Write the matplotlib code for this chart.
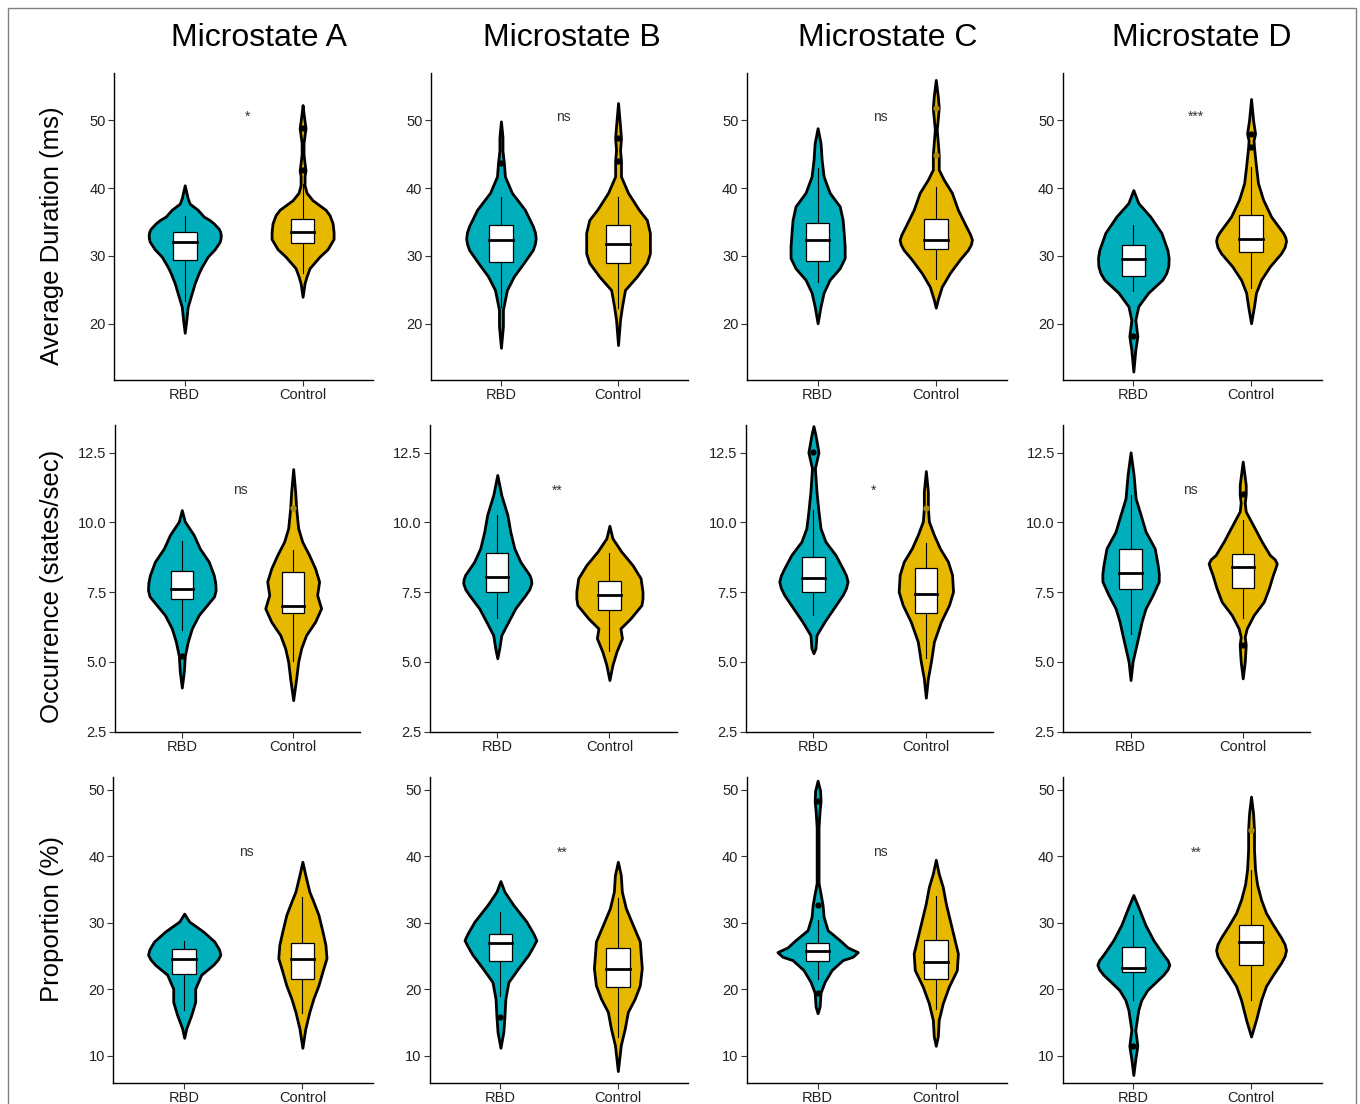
import matplotlib
matplotlib.use('Agg')
import matplotlib.pyplot as plt
import numpy as np
from matplotlib.patches import Rectangle

plt.rcParams['font.family'] = ['Liberation Sans', 'DejaVu Sans']

microstates = ['Microstate A', 'Microstate B', 'Microstate C', 'Microstate D']
groups = ['RBD', 'Control']
measures = ['Average Duration (ms)', 'Occurrence (states/sec)', 'Proportion (%)']
signif = [['*', 'ns', 'ns', '***'],
          ['ns', '**', '*', 'ns'],
          ['ns', '**', 'ns', '**']]

# violin outlines: (value, half width in category units)
# box stats: [lower whisker, q1, median, q3, upper whisker]

# ---- average duration ----
dur_a_rbd = [(18.7, 0), (20.5, .013), (22.5, .025), (24.5, .059), (26.0, .085), (27.5, .119),
             (28.4, .144), (29.9, .195), (31.0, .255), (32.1, .297), (32.6, .304), (33.1, .306),
             (33.6, .300), (34.0, .289), (34.8, .246), (35.3, .210), (35.8, .161), (36.8, .110),
             (37.7, .042), (38.5, .025), (40.4, 0)]
dur_a_rbd_box = [23.4, 29.4, 32.0, 33.6, 35.9]
dur_a_rbd_out = []
dur_a_ctl = [(24.0, 0), (26.0, .017), (27.0, .034), (28.2, .059), (29.9, .144), (31.0, .212),
             (32.5, .263), (33.5, .263), (34.8, .255), (36.0, .229), (36.8, .195), (38.2, .085),
             (39.3, .034), (40.4, .017), (41.8, .017), (42.6, .025), (43.6, .017), (45.0, .008),
             (46.6, .008), (47.8, .017), (48.8, .025), (49.8, .017), (51.0, .008), (52.2, 0)]
dur_a_ctl_box = [27.5, 31.9, 33.6, 35.4, 40.6]
dur_a_ctl_out = [42.6, 48.8]

dur_b_rbd = [(16.5, 0), (19.7, .017), (22.1, .017), (25.0, .051), (27.0, .110), (29.0, .195),
             (30.9, .272), (31.8, .290), (32.6, .297), (33.5, .290), (34.4, .272), (36.8, .204),
             (39.3, .093), (41.7, .034), (43.7, .025), (45.5, .013), (47.5, .013), (49.8, 0)]
dur_b_rbd_box = [22.5, 29.1, 32.3, 34.6, 38.7]
dur_b_rbd_out = [43.7]
dur_b_ctl = [(16.9, 0), (20.6, .017), (22.6, .034), (25.0, .059), (27.0, .161), (29.0, .246),
             (30.4, .272), (32.0, .272), (33.4, .272), (35.3, .246), (36.8, .178), (39.3, .085),
             (41.7, .025), (44.0, .025), (45.6, .017), (47.3, .025), (49.1, .017), (52.5, 0)]
dur_b_ctl_box = [22.3, 29.0, 31.8, 34.6, 38.7]
dur_b_ctl_out = [44.0, 47.3]

dur_c_rbd = [(20.1, 0), (22.6, .025), (24.6, .051), (26.5, .102), (28.2, .187), (29.7, .229),
             (31.4, .229), (33.4, .221), (35.3, .212), (37.3, .187), (39.3, .102), (41.7, .051),
             (44.2, .034), (46.6, .025), (48.8, 0)]
dur_c_rbd_box = [26.2, 29.2, 32.3, 34.8, 42.9]
dur_c_rbd_out = []
dur_c_ctl = [(22.4, 0), (23.6, .017), (25.5, .051), (27.5, .119), (29.5, .204), (30.9, .272),
             (31.7, .297), (32.4, .306), (33.2, .290), (34.4, .255), (36.8, .187), (39.3, .136),
             (41.2, .068), (42.7, .025), (44.9, .025), (46.7, .017), (48.6, .008), (50.2, .017),
             (51.8, .025), (53.5, .017), (55.9, 0)]
dur_c_ctl_box = [26.6, 31.1, 32.4, 35.4, 40.1]
dur_c_ctl_out = []
dur_c_ctl_faint = [44.9, 51.8]

dur_d_rbd = [(13.0, 0), (16.2, .017), (18.2, .034), (20.6, .017), (22.6, .042), (24.6, .127),
             (26.5, .246), (27.5, .280), (28.5, .297), (29.7, .300), (30.9, .289), (33.4, .238),
             (35.8, .144), (37.8, .042), (39.7, 0)]
dur_d_rbd_box = [24.8, 27.0, 29.5, 31.6, 34.5]
dur_d_rbd_out = [18.2]
dur_d_ctl = [(20.1, 0), (22.6, .025), (24.6, .042), (26.5, .085), (28.5, .161), (30.4, .255),
             (31.3, .285), (32.2, .297), (32.8, .290), (33.4, .272), (35.8, .170), (38.3, .102),
             (40.7, .059), (43.2, .042), (46.0, .025), (47.0, .021), (48.0, .034), (50.0, .017),
             (53.1, 0)]
dur_d_ctl_box = [25.3, 30.6, 32.5, 36.0, 43.1]
dur_d_ctl_out = [46.0, 48.0]

# ---- occurrence ----
occ_a_rbd = [(4.08, 0), (4.65, .018), (5.22, .027), (5.73, .054), (6.20, .090), (6.68, .152),
             (7.16, .251), (7.35, .290), (7.58, .304), (7.85, .300), (8.12, .286), (8.59, .242),
             (9.07, .161), (9.55, .107), (10.03, .027), (10.44, 0)]
occ_a_rbd_box = [6.14, 7.26, 7.63, 8.26, 9.33]
occ_a_rbd_out = [5.22]
occ_a_ctl = [(3.63, 0), (4.41, .027), (5.01, .045), (5.49, .072), (5.96, .116), (6.44, .197),
             (6.92, .251), (7.40, .215), (7.88, .233), (8.35, .197), (8.83, .143), (9.31, .081),
             (9.79, .045), (10.50, .027), (11.10, .018), (11.91, 0)]
occ_a_ctl_box = [5.05, 6.74, 7.02, 8.21, 9.01]
occ_a_ctl_out = []
occ_a_ctl_faint = [10.5]

occ_b_rbd = [(5.13, 0), (5.49, .018), (5.96, .036), (6.44, .098), (6.92, .161), (7.40, .251),
             (7.60, .285), (7.82, .304), (7.97, .300), (8.12, .286), (8.59, .206), (9.07, .152),
             (9.67, .116), (10.27, .090), (10.98, .036), (11.70, 0)]
occ_b_rbd_box = [6.56, 7.52, 8.03, 8.89, 10.27]
occ_b_rbd_out = []
occ_b_ctl = [(4.35, 0), (4.89, .027), (5.37, .063), (5.85, .112), (6.20, .098), (6.56, .188),
             (7.04, .286), (7.28, .295), (7.52, .295), (8.00, .278), (8.47, .206), (8.95, .107),
             (9.43, .027), (9.88, 0)]
occ_b_ctl_box = [5.39, 6.86, 7.40, 7.91, 8.89]
occ_b_ctl_out = []

occ_c_rbd = [(5.31, 0), (5.49, .018), (5.96, .027), (6.44, .098), (6.92, .179), (7.40, .260),
             (7.65, .290), (7.88, .304), (8.10, .290), (8.35, .260), (8.83, .197), (9.31, .107),
             (9.79, .063), (10.39, .045), (11.10, .027), (11.94, .013), (12.51, .045),
             (13.13, .018), (13.45, 0)]
occ_c_rbd_box = [6.68, 7.52, 8.02, 8.77, 10.44]
occ_c_rbd_out = [12.51]
occ_c_ctl = [(3.72, 0), (4.41, .018), (5.01, .045), (5.73, .072), (6.44, .134), (7.04, .206),
             (7.52, .242), (8.12, .233), (8.59, .197), (9.07, .125), (9.55, .072), (10.03, .027),
             (10.50, .018), (11.10, .018), (11.84, 0)]
occ_c_ctl_box = [5.13, 6.74, 7.42, 8.35, 9.25]
occ_c_ctl_out = []
occ_c_ctl_faint = [10.5]

occ_d_rbd = [(4.35, 0), (5.01, .018), (5.49, .045), (5.96, .072), (6.44, .098), (6.92, .134),
             (7.40, .197), (7.88, .251), (8.15, .252), (8.47, .242), (9.07, .215), (9.67, .134),
             (10.27, .090), (10.86, .045), (11.70, .027), (12.51, 0)]
occ_d_rbd_box = [5.99, 7.61, 8.17, 9.03, 10.98]
occ_d_rbd_out = []
occ_d_ctl = [(4.41, 0), (5.01, .018), (5.61, .027), (5.90, .018), (6.20, .036), (6.68, .098),
             (7.16, .188), (7.64, .233), (8.12, .269), (8.35, .290), (8.53, .304), (8.68, .285),
             (8.83, .242), (9.31, .170), (9.79, .107), (10.39, .027), (10.70, .018), (11.01, .027),
             (11.34, .027), (12.18, 0)]
occ_d_ctl_box = [6.59, 7.66, 8.41, 8.87, 10.09]
occ_d_ctl_out = [5.61, 11.01]

# ---- proportion ----
pro_a_rbd = [(12.7, 0), (14.1, .017), (16.1, .059), (18.1, .093), (20.1, .093), (22.2, .144),
             (23.7, .246), (24.5, .285), (25.2, .306), (26.0, .295), (27.2, .255), (28.7, .161),
             (30.2, .042), (31.4, 0)]
pro_a_rbd_box = [16.9, 22.3, 24.5, 26.0, 27.3]
pro_a_rbd_out = []
pro_a_ctl = [(11.2, 0), (14.1, .025), (16.6, .059), (18.6, .093), (20.6, .136), (22.7, .170),
             (24.7, .204), (26.7, .195), (28.7, .170), (31.2, .136), (33.2, .093), (34.7, .059),
             (37.2, .025), (39.2, 0)]
pro_a_ctl_box = [16.5, 21.5, 24.6, 27.0, 33.9]
pro_a_ctl_out = []

pro_b_rbd = [(11.2, 0), (13.6, .025), (15.9, .034), (18.6, .042), (21.1, .068), (23.2, .153),
             (25.2, .238), (26.5, .280), (27.4, .306), (28.4, .280), (30.2, .221), (32.7, .110),
             (34.7, .034), (36.3, 0)]
pro_b_rbd_box = [19.0, 24.3, 26.9, 28.4, 31.7]
pro_b_rbd_out = [15.9]
pro_b_ctl = [(7.7, 0), (11.6, .025), (14.1, .059), (16.6, .085), (18.6, .144), (20.6, .187),
             (23.2, .204), (25.2, .195), (27.2, .187), (29.7, .127), (32.2, .068), (34.7, .034),
             (37.2, .025), (39.2, 0)]
pro_b_ctl_box = [12.9, 20.4, 23.1, 26.2, 33.7]
pro_b_ctl_out = []

pro_c_rbd = [(16.4, 0), (17.4, .017), (19.5, .025), (21.1, .059), (22.9, .119), (24.4, .212),
             (24.9, .297), (25.6, .340), (26.3, .255), (27.4, .187), (28.9, .085), (30.9, .051),
             (32.7, .042), (34.4, .025), (36.0, .008), (40.0, .008), (44.4, .008), (46.9, .017),
             (48.3, .025), (49.9, .021), (51.4, 0)]
pro_c_rbd_box = [21.6, 24.2, 25.7, 27.0, 30.4]
pro_c_rbd_out = [19.5, 32.7, 48.3]
pro_c_ctl = [(11.5, 0), (12.9, .017), (15.4, .025), (17.9, .059), (20.4, .110), (22.9, .178),
             (25.4, .187), (27.9, .153), (30.4, .119), (32.9, .085), (35.4, .059), (37.4, .025),
             (39.5, 0)]
pro_c_ctl_box = [17.0, 21.5, 24.1, 27.5, 34.0]
pro_c_ctl_out = []

pro_d_rbd = [(7.1, 0), (9.5, .017), (11.5, .034), (13.9, .017), (16.9, .042), (18.4, .068),
             (19.9, .119), (22.2, .255), (23.0, .290), (23.7, .306), (24.4, .290), (25.2, .255),
             (27.4, .170), (29.7, .102), (32.0, .051), (34.2, 0)]
pro_d_rbd_box = [18.4, 22.6, 23.2, 26.4, 31.2]
pro_d_rbd_out = [11.5]
pro_d_ctl = [(12.9, 0), (15.4, .042), (18.4, .085), (20.5, .127), (22.2, .187), (24.0, .255),
             (25.0, .285), (25.9, .297), (26.8, .285), (27.8, .255), (29.7, .187), (31.5, .127),
             (33.5, .085), (35.8, .051), (38.0, .034), (41.0, .025), (44.0, .025), (46.5, .017),
             (49.0, 0)]
pro_d_ctl_box = [18.4, 23.7, 27.1, 29.7, 38.0]
pro_d_ctl_out = []
pro_d_ctl_faint = [44.0]

panels = [
    [(dur_a_rbd, dur_a_rbd_box, dur_a_rbd_out, [], dur_a_ctl, dur_a_ctl_box, dur_a_ctl_out, []),
     (dur_b_rbd, dur_b_rbd_box, dur_b_rbd_out, [], dur_b_ctl, dur_b_ctl_box, dur_b_ctl_out, []),
     (dur_c_rbd, dur_c_rbd_box, dur_c_rbd_out, [], dur_c_ctl, dur_c_ctl_box, dur_c_ctl_out,
      dur_c_ctl_faint),
     (dur_d_rbd, dur_d_rbd_box, dur_d_rbd_out, [], dur_d_ctl, dur_d_ctl_box, dur_d_ctl_out, [])],
    [(occ_a_rbd, occ_a_rbd_box, occ_a_rbd_out, [], occ_a_ctl, occ_a_ctl_box, occ_a_ctl_out,
      occ_a_ctl_faint),
     (occ_b_rbd, occ_b_rbd_box, occ_b_rbd_out, [], occ_b_ctl, occ_b_ctl_box, occ_b_ctl_out, []),
     (occ_c_rbd, occ_c_rbd_box, occ_c_rbd_out, [], occ_c_ctl, occ_c_ctl_box, occ_c_ctl_out,
      occ_c_ctl_faint),
     (occ_d_rbd, occ_d_rbd_box, occ_d_rbd_out, [], occ_d_ctl, occ_d_ctl_box, occ_d_ctl_out, [])],
    [(pro_a_rbd, pro_a_rbd_box, pro_a_rbd_out, [], pro_a_ctl, pro_a_ctl_box, pro_a_ctl_out, []),
     (pro_b_rbd, pro_b_rbd_box, pro_b_rbd_out, [], pro_b_ctl, pro_b_ctl_box, pro_b_ctl_out, []),
     (pro_c_rbd, pro_c_rbd_box, pro_c_rbd_out, [], pro_c_ctl, pro_c_ctl_box, pro_c_ctl_out, []),
     (pro_d_rbd, pro_d_rbd_box, pro_d_rbd_out, [], pro_d_ctl, pro_d_ctl_box, pro_d_ctl_out,
      pro_d_ctl_faint)],
]

yticks = [[20, 30, 40, 50], [2.5, 5.0, 7.5, 10.0, 12.5], [10, 20, 30, 40, 50]]
ylims = [(11.76, 56.96), (2.5, 13.49), (5.95, 52.0)]
sig_y = [49.9, 11.0, 40.0]
colors = ['#00AFBB', '#E7B800']
faint_colors = ['#0a7f88', '#a88a10']

W, H = 1360, 1104
# axes boxes in pixels: (left, right) per column, (top, bottom) per row
rows_px = [(72.7, 380), (425, 731.7), (776.7, 1082.7)]
cols_px = [[(114, 373.3), (430.7, 688.3), (746.7, 1006.7), (1062.7, 1321.7)],
           [(115, 360), (430, 676.7), (746, 993.3), (1063.3, 1310)],
           [(113.3, 373.3), (430, 688.3), (746.7, 1006.7), (1062.7, 1321.7)]]

fig = plt.figure(figsize=(W / 100, H / 100), dpi=100)
fig.patches.append(Rectangle((8 / W, -0.01), 1348 / W, 1 - 8 / H + 0.01, transform=fig.transFigure,
                             fill=False, edgecolor='#808080', lw=1.0))


def draw_violin(ax, x, prof, box, out, faint, color, fcolor):
    yy = np.array([p[0] for p in prof])
    ww = np.array([p[1] for p in prof])
    ax.fill_betweenx(yy, x - ww, x + ww, facecolor=color, edgecolor='black', lw=2.0,
                     joinstyle='round', zorder=2)
    lo, q1, med, q3, hi = box
    ax.plot([x, x], [q3, hi], color='black', lw=0.8, zorder=3)
    ax.plot([x, x], [lo, q1], color='black', lw=0.8, zorder=3)
    ax.add_patch(Rectangle((x - 0.1, q1), 0.2, q3 - q1, facecolor='white', edgecolor='black',
                           lw=0.9, zorder=4))
    ax.plot([x - 0.1, x + 0.1], [med, med], color='black', lw=2.0, zorder=5)
    if out:
        ax.plot([x] * len(out), out, 'o', color='black', ms=3.5, zorder=6)
    if faint:
        ax.plot([x] * len(faint), faint, 'o', color=fcolor, ms=3.5, zorder=6)


for r in range(3):
    top, bot = rows_px[r]
    for c in range(4):
        left, right = cols_px[r][c]
        ax = fig.add_axes([left / W, 1 - bot / H, (right - left) / W, (bot - top) / H])
        rbd, rbd_box, rbd_out, rbd_f, ctl, ctl_box, ctl_out, ctl_f = panels[r][c]
        draw_violin(ax, 1, rbd, rbd_box, rbd_out, rbd_f, colors[0], faint_colors[0])
        draw_violin(ax, 2, ctl, ctl_box, ctl_out, ctl_f, colors[1], faint_colors[1])
        ax.set_xlim(0.4, 2.6)
        ax.set_ylim(*ylims[r])
        ax.set_xticks([1, 2])
        ax.set_xticklabels(groups)
        ax.set_yticks(yticks[r])
        if r == 1:
            ax.set_yticklabels(['%.1f' % v for v in yticks[r]])
        for s in ['top', 'right']:
            ax.spines[s].set_visible(False)
        for s in ['left', 'bottom']:
            ax.spines[s].set_linewidth(1.0)
        ax.tick_params(length=4, width=0.8, color='#333333', labelsize=10.5,
                       labelcolor='#222222', pad=2)
        ax.text(1.53, sig_y[r], signif[r][c], ha='center', va='baseline', fontsize=10,
                color='#333333')

title_x = [259, 572, 888, 1202]
for c in range(4):
    fig.text(title_x[c] / W, 1 - 38 / H, microstates[c], ha='center', va='center', fontsize=23)

ylab_y = [236, 586, 919]
for r in range(3):
    fig.text(52 / W, 1 - ylab_y[r] / H, measures[r], ha='center', va='center', rotation=90,
             fontsize=18.5)

fig.savefig('out.png', dpi=100)
